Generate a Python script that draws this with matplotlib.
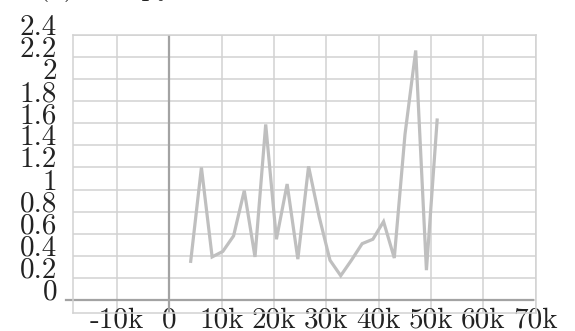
import matplotlib
matplotlib.use("Agg")
import matplotlib.pyplot as plt
from matplotlib.ticker import FixedLocator, FixedFormatter

# Series
sizes = [4096, 6144, 8192, 10240, 12288, 14336, 16384, 18432, 20480, 22528,
         24576, 26624, 28672, 30720, 32768, 34816, 36864, 38912, 40960, 43008,
         45056, 47104, 49152, 51200]
times = [0.35, 1.20, 0.39, 0.44, 0.58, 0.99, 0.39, 1.59, 0.55, 1.05,
         0.37, 1.21, 0.75, 0.36, 0.22, 0.36, 0.51, 0.55, 0.71, 0.38,
         1.50, 2.26, 0.27, 1.63]

# Axis ticks
x_ticks = [-10000, 0, 10000, 20000, 30000, 40000, 50000, 60000, 70000]
x_tick_labels = ["-10k", "0", "10k", "20k", "30k", "40k", "50k", "60k", "70k"]
y_ticks = [0, 0.2, 0.4, 0.6, 0.8, 1.0, 1.2, 1.4, 1.6, 1.8, 2.0, 2.2, 2.4]
y_tick_labels = ["0", "0.2", "0.4", "0.6", "0.8", "1", "1.2", "1.4", "1.6",
                 "1.8", "2", "2.2", "2.4"]
title = "(a) numpy"

plt.rcParams["font.family"] = "cmr10"
plt.rcParams["axes.formatter.use_mathtext"] = True

W, H = 575, 331
fig = plt.figure(figsize=(W / 100, H / 100), dpi=100)
ax = fig.add_axes([73 / W, 1 - 313 / H, (535.5 - 73) / W, (313 - 35) / H])

grid_c = "#d2d2d2"
axis_c = "#a3a3a3"

ax.set_xlim(-18400, 70000)
ax.set_ylim(-0.118, 2.4)

ax.xaxis.set_major_locator(FixedLocator(x_ticks))
ax.xaxis.set_major_formatter(FixedFormatter(x_tick_labels))
ax.yaxis.set_major_locator(FixedLocator(y_ticks))
ax.yaxis.set_major_formatter(FixedFormatter(y_tick_labels))

ax.grid(True, color=grid_c, linewidth=1.1, zorder=0)
ax.set_axisbelow(True)
for s in ax.spines.values():
    s.set_color(grid_c)
    s.set_linewidth(1.1)

ax.tick_params(axis="both", length=0, labelsize=21, colors="#222222")
ax.tick_params(axis="y", pad=11.5)
ax.tick_params(axis="x", pad=-4.5)
for lab in ax.get_yticklabels():
    lab.set_verticalalignment("baseline")

# zero lines
ax.axhline(0, xmin=-0.015, xmax=0.995, color=axis_c, linewidth=1.6,
           clip_on=False, zorder=1)
ax.axvline(0, color=axis_c, linewidth=1.6, zorder=1)

ax.plot(sizes, times, color="#bfbfbf", linewidth=2.3, solid_joinstyle="miter",
        zorder=3)

fig.text(38 / W, 1 + 5 / H, title, fontsize=21, ha="left", va="baseline",
         color="#222222")

fig.savefig("out.png", dpi=100)
